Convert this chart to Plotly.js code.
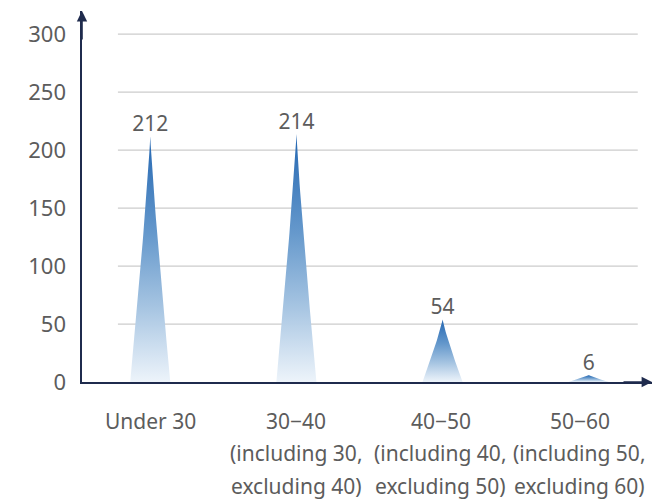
<!DOCTYPE html>
<html>
<head>
<meta charset="utf-8">
<script src="https://cdn.plot.ly/plotly-3.0.1.min.js"></script>
<style>html,body{margin:0;padding:0;background:#fff;}#chart{width:667px;height:501px;}</style>
</head>
<body>
<div id="chart"></div>
<script>
// ---- data ----
const categories = ['Under 30', '30\u221240', '40\u221250', '50\u221260'];
const detailLine1 = ['', '(including 30,', '(including 40,', '(including 50,'];
const detailLine2 = ['', 'excluding 40)', 'excluding 50)', 'excluding 60)'];
const values = [212, 214, 54, 6];
const yTickVals = [0, 50, 100, 150, 200, 250, 300];

// ---- styles ----
const FONT = '"Noto Sans", "Open Sans", "DejaVu Sans", sans-serif';
const TEXT_COLOR = '#5c5c5c';
const AXIS_COLOR = '#1f2b4d';
const GRID_COLOR = '#cccccc';
const HALF_WIDTH = 0.137;   // half base width of a spike, in category units
const CURVE_POW = 1.15;     // slight concavity of spike sides
const LABEL_XSHIFT = [0, 0, -2, -9];  // px nudges of category labels (as in reference)

const idx = categories.map((_, i) => i);
const traces = [];

// spike ("pictorial") traces built from the values
values.forEach((v, i) => {
  const xs = [], ys = [];
  const N = 30;
  for (let k = 0; k <= N; k++) {           // left side, bottom -> top
    const h = k / N;
    xs.push(i - HALF_WIDTH * Math.pow(1 - h, CURVE_POW));
    ys.push(v * h);
  }
  for (let k = N - 1; k >= 0; k--) {       // right side, top -> bottom
    const h = k / N;
    xs.push(i + HALF_WIDTH * Math.pow(1 - h, CURVE_POW));
    ys.push(v * h);
  }
  traces.push({
    type: 'scatter', mode: 'lines', x: xs, y: ys,
    fill: 'toself',
    line: {width: 0, color: 'rgba(0,0,0,0)'},
    fillgradient: {
      type: 'vertical',
      colorscale: [[0, 'rgba(236,243,250,0.95)'], [0.3, '#a7c5e2'], [0.6, '#6699cc'], [1, '#2467b2']]
    },
    hoverinfo: 'skip', showlegend: false
  });
});

// value labels
traces.push({
  type: 'scatter', mode: 'text', x: idx, y: values,
  text: values.map(String), textposition: 'top center',
  textfont: {family: FONT, size: 21, color: TEXT_COLOR},
  cliponaxis: false, hoverinfo: 'skip', showlegend: false
});

// grid lines (shorter than the plot area, as in the reference)
const shapes = yTickVals.filter(v => v > 0).map(v => ({
  type: 'line', xref: 'paper', yref: 'y',
  x0: 0.063, x1: 0.975, y0: v, y1: v,
  line: {color: GRID_COLOR, width: 1.2}, layer: 'below'
}));

// category labels, three lines each
const annotations = [];
idx.forEach(i => {
  [[categories[i], -39], [detailLine1[i], -71], [detailLine2[i], -104]].forEach(([t, sh]) => {
    if (!t) return;
    annotations.push({
      xref: 'x', yref: 'paper', x: i, y: 0, yshift: sh, xshift: LABEL_XSHIFT[i],
      text: t, showarrow: false, xanchor: 'center', yanchor: 'middle',
      font: {family: FONT, size: 21, color: TEXT_COLOR}
    });
  });
});
// axis arrows
annotations.push({
  xref: 'paper', yref: 'paper', x: 1, y: 0, ax: -30, ay: 0,
  text: '', showarrow: true,
  arrowhead: 2, arrowsize: 1.3, arrowwidth: 1.6, arrowcolor: AXIS_COLOR
});
annotations.push({
  xref: 'paper', yref: 'paper', x: 0, y: 1, ax: 0, ay: 30,
  text: '', showarrow: true,
  arrowhead: 2, arrowsize: 1.3, arrowwidth: 1.6, arrowcolor: AXIS_COLOR
});

const layout = {
  width: 667, height: 501,
  margin: {l: 82, r: 15, t: 11, b: 119},
  paper_bgcolor: '#ffffff', plot_bgcolor: '#ffffff',
  font: {family: FONT, size: 20, color: TEXT_COLOR},
  xaxis: {
    range: [-0.467, 3.433], tickvals: idx, showticklabels: false,
    showgrid: false, zeroline: false, showline: true,
    linecolor: AXIS_COLOR, linewidth: 1.6, ticks: ''
  },
  yaxis: {
    range: [0, 320], tickvals: yTickVals, ticktext: yTickVals.map(String),
    showgrid: false, zeroline: false, showline: true,
    linecolor: AXIS_COLOR, linewidth: 1.6, ticks: '',
    ticklabelstandoff: 10,
    tickfont: {family: FONT, size: 22, color: TEXT_COLOR}
  },
  shapes: shapes,
  annotations: annotations,
  showlegend: false
};

Plotly.newPlot('chart', traces, layout, {displayModeBar: false, staticPlot: true});
</script>
</body>
</html>
